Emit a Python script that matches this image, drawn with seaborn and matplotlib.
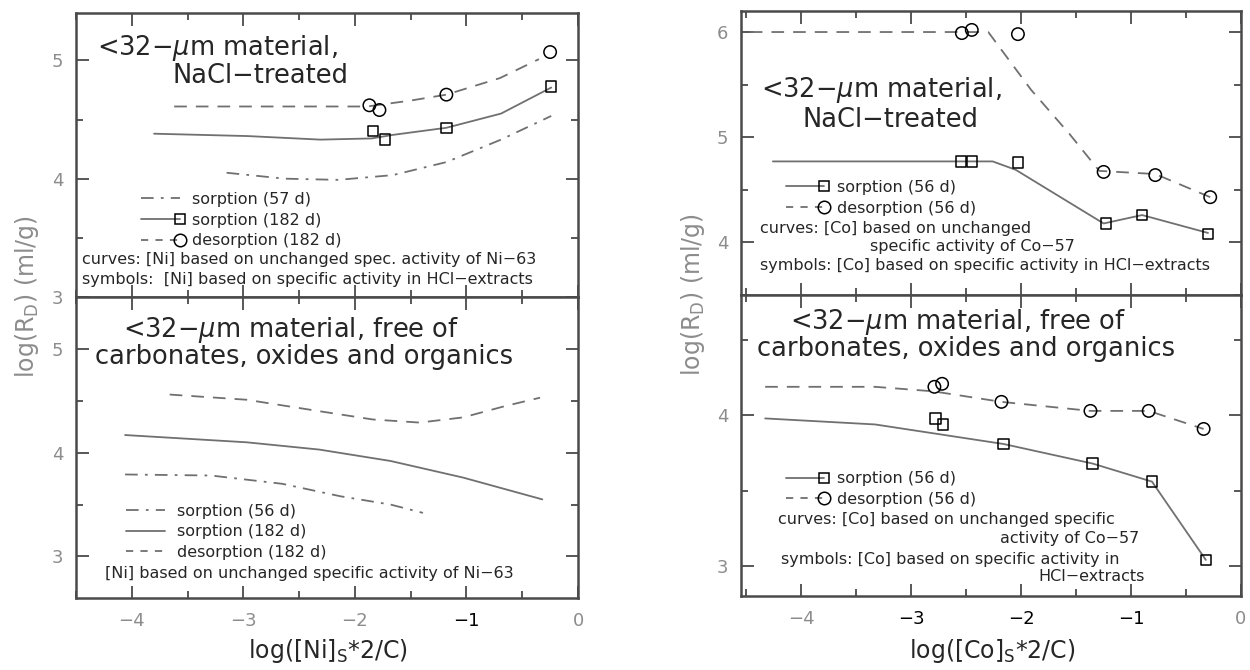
import numpy as np
import pandas as pd
import seaborn as sns
import matplotlib.pyplot as plt
from matplotlib.lines import Line2D
from matplotlib.legend_handler import HandlerLine2D
from matplotlib.ticker import MultipleLocator

"""
1. Values read off the figure
"""
# Ni, NaCl-treated (top left)
ni_nacl_s57_x = [-3.15, -2.63, -2.15, -1.66, -1.18, -0.69, -0.24]
ni_nacl_s57_y = [4.05, 4.00, 3.99, 4.03, 4.14, 4.33, 4.53]
ni_nacl_s182_x = [-3.80, -2.96, -2.31, -1.85, -1.66, -1.18, -0.69, -0.24]
ni_nacl_s182_y = [4.38, 4.36, 4.33, 4.34, 4.37, 4.43, 4.55, 4.77]
ni_nacl_d182_x = [-3.62, -2.80, -1.89, -1.50, -1.18, -0.70, -0.35]
ni_nacl_d182_y = [4.61, 4.61, 4.61, 4.66, 4.71, 4.85, 5.01]
ni_nacl_sq_x = [-1.84, -1.73, -1.18, -0.24]
ni_nacl_sq_y = [4.40, 4.33, 4.43, 4.78]
ni_nacl_ci_x = [-1.87, -1.78, -1.18, -0.25]
ni_nacl_ci_y = [4.62, 4.58, 4.71, 5.07]

# Ni, free of carbonates, oxides and organics (bottom left)
ni_free_s56_x = [-4.06, -3.29, -2.65, -2.13, -1.68, -1.39]
ni_free_s56_y = [3.79, 3.78, 3.70, 3.58, 3.50, 3.42]
ni_free_s182_x = [-4.06, -2.97, -2.32, -1.68, -1.03, -0.32]
ni_free_s182_y = [4.17, 4.10, 4.03, 3.92, 3.76, 3.55]
ni_free_d182_x = [-3.66, -2.97, -2.32, -1.84, -1.42, -1.03, -0.65, -0.34]
ni_free_d182_y = [4.56, 4.51, 4.40, 4.32, 4.29, 4.34, 4.45, 4.53]

# Co, NaCl-treated (top right)
co_nacl_s56_x = [-4.26, -2.26, -2.05, -1.25, -0.90, -0.30]
co_nacl_s56_y = [4.77, 4.77, 4.69, 4.18, 4.26, 4.09]
co_nacl_d56_x = [-4.47, -2.30, -1.91, -1.56, -1.29, -0.78, -0.28]
co_nacl_d56_y = [6.00, 6.00, 5.45, 5.03, 4.68, 4.65, 4.43]
co_nacl_sq_x = [-2.55, -2.45, -2.03, -1.23, -0.90, -0.30]
co_nacl_sq_y = [4.77, 4.77, 4.76, 4.18, 4.26, 4.08]
co_nacl_ci_x = [-2.54, -2.45, -2.03, -1.25, -0.78, -0.28]
co_nacl_ci_y = [5.99, 6.02, 5.98, 4.67, 4.64, 4.43]

# Co, free of carbonates, oxides and organics (bottom right)
co_free_s56_x = [-4.33, -3.33, -2.16, -1.35, -0.81, -0.32]
co_free_s56_y = [3.98, 3.94, 3.81, 3.68, 3.56, 3.04]
co_free_d56_x = [-4.33, -3.33, -2.80, -2.18, -1.37, -0.84, -0.34]
co_free_d56_y = [4.19, 4.19, 4.16, 4.09, 4.03, 4.03, 3.91]
co_free_sq_x = [-2.78, -2.71, -2.16, -1.35, -0.81, -0.32]
co_free_sq_y = [3.98, 3.94, 3.81, 3.68, 3.56, 3.04]
co_free_ci_x = [-2.79, -2.72, -2.18, -1.37, -0.84, -0.34]
co_free_ci_y = [4.19, 4.21, 4.09, 4.03, 4.03, 3.91]

x_ticks = [-4, -3, -2, -1, 0]
x_tick_labels = ['\u22124', '\u22123', '\u22122', '\u22121', '0']

"""
2. Styling
"""
sns.set_style('ticks')
plt.rcParams['font.family'] = ['DejaVu Sans']
plt.rcParams['mathtext.fontset'] = 'dejavusans'

curve_col = '#707070'
frame_col = '#4a4a4a'
tick_col = '#8c8c8c'
dashed = (0, (7, 5))
dashdot = (0, (7, 4, 1.5, 4))
lw = 1.3


class EndMarkerHandler(HandlerLine2D):
    # legend key with the symbol sitting at the right end of the line
    def create_artists(self, *args, **kwargs):
        artists = super().create_artists(*args, **kwargs)
        for a in artists:
            if a.get_marker() not in ('None', None, ''):
                a.set_markevery([len(a.get_xdata()) - 1])
        return artists


def style_axes(ax, xlim, ylim, yticks, bottom_panel, black_x=()):
    ax.set_xlim(xlim)
    ax.set_ylim(ylim)
    ax.set_xticks(x_ticks)
    ax.xaxis.set_minor_locator(MultipleLocator(0.5))
    ax.set_yticks(yticks)
    ax.yaxis.set_minor_locator(MultipleLocator(0.5))
    ax.tick_params(which='both', direction='in', top=True, right=True,
                   color=frame_col, width=1.3)
    ax.tick_params(which='major', length=9)
    ax.tick_params(which='minor', length=5)
    ax.tick_params(axis='y', labelsize=13, labelcolor=tick_col, pad=9)
    ax.set_yticklabels([str(t) for t in yticks])
    if bottom_panel:
        ax.set_xticklabels(x_tick_labels)
        ax.tick_params(axis='x', labelsize=13, labelcolor=tick_col, pad=10)
        for lab, t in zip(ax.get_xticklabels(), x_ticks):
            if t in black_x:
                lab.set_color('black')
    else:
        ax.tick_params(axis='x', labelbottom=False)
    for s in ax.spines.values():
        s.set_color(frame_col)
        s.set_linewidth(1.8)
    ax.set_xlabel('')
    ax.set_ylabel('')


def curve(ax, x, y, ls):
    sns.lineplot(x=x, y=y, ax=ax, color=curve_col, linestyle=ls,
                 linewidth=lw, sort=False, estimator=None)


def symbols(ax, x, y, marker, size):
    sns.scatterplot(x=x, y=y, ax=ax, marker=marker, s=size,
                    facecolor='none', edgecolor='black', linewidth=1.1,
                    zorder=3)


def add_key(ax, handles, labels, anchor):
    ax.legend(handles, labels, loc='upper left', bbox_to_anchor=anchor,
              frameon=False, fontsize=11.5, handlelength=2.4,
              handletextpad=0.8, labelspacing=0.35, borderpad=0,
              borderaxespad=0,
              handler_map={Line2D: EndMarkerHandler(numpoints=1)})


h_dashdot = Line2D([], [], color=curve_col, ls=dashdot, lw=lw)
h_solid = Line2D([], [], color=curve_col, ls='-', lw=lw)
h_dashed = Line2D([], [], color=curve_col, ls=(0, (4, 4)), lw=lw)
h_solid_sq = Line2D([], [], color=curve_col, ls='-', lw=lw, marker='s',
                    ms=7, mfc='none', mec='black', mew=1.1)
h_dashed_ci = Line2D([], [], color=curve_col, ls=(0, (4, 4)), lw=lw,
                     marker='o', ms=9, mfc='none', mec='black', mew=1.1)

title_kw = dict(fontsize=18.5, va='center')
note_kw = dict(fontsize=11.5, va='center')

fig = plt.figure(figsize=(12.5, 6.7), dpi=100)
ax_tl = fig.add_axes([0.0608, 0.5567, 0.4016, 0.4239])
ax_bl = fig.add_axes([0.0608, 0.1075, 0.4016, 0.4492], sharex=ax_tl)
ax_tr = fig.add_axes([0.5928, 0.5597, 0.4000, 0.4239])
ax_br = fig.add_axes([0.5928, 0.1104, 0.4000, 0.4493], sharex=ax_tr)

"""
3. Top left: Ni, NaCl-treated
"""
ax = ax_tl
curve(ax, ni_nacl_s57_x, ni_nacl_s57_y, dashdot)
curve(ax, ni_nacl_s182_x, ni_nacl_s182_y, '-')
curve(ax, ni_nacl_d182_x, ni_nacl_d182_y, dashed)
symbols(ax, ni_nacl_sq_x, ni_nacl_sq_y, 's', 55)
symbols(ax, ni_nacl_ci_x, ni_nacl_ci_y, 'o', 80)
style_axes(ax, (-4.5, 0), (3.0, 5.4), [3, 4, 5], False)
ax.text(-4.31, 5.10, '<32\u2212$\\mu$m material,', **title_kw)
ax.text(-2.85, 4.87, 'NaCl\u2212treated', ha='center', **title_kw)
add_key(ax, [h_dashdot, h_solid_sq, h_dashed_ci],
        ['sorption (57 d)', 'sorption (182 d)', 'desorption (182 d)'],
        (0.13, 0.37))
ax.text(-4.45, 3.32, 'curves: [Ni] based on unchanged spec. activity of Ni\u221263',
        **note_kw)
ax.text(-4.45, 3.15, 'symbols:  [Ni] based on specific activity in HCl\u2212extracts',
        **note_kw)

"""
4. Bottom left: Ni, free of carbonates, oxides and organics
"""
ax = ax_bl
curve(ax, ni_free_s56_x, ni_free_s56_y, dashdot)
curve(ax, ni_free_s182_x, ni_free_s182_y, '-')
curve(ax, ni_free_d182_x, ni_free_d182_y, dashed)
style_axes(ax, (-4.5, 0), (2.6, 5.5), [3, 4, 5], True, black_x=(-1,))
ax.text(-4.08, 5.18, '<32\u2212$\\mu$m material, free of', **title_kw)
ax.text(-4.33, 4.92, 'carbonates, oxides and organics', **title_kw)
add_key(ax, [h_dashdot, h_solid, h_dashed],
        ['sorption (56 d)', 'sorption (182 d)', 'desorption (182 d)'],
        (0.10, 0.313))
ax.text(-4.24, 2.84, '[Ni] based on unchanged specific activity of Ni\u221263',
        **note_kw)

"""
5. Top right: Co, NaCl-treated
"""
ax = ax_tr
curve(ax, co_nacl_s56_x, co_nacl_s56_y, '-')
curve(ax, co_nacl_d56_x, co_nacl_d56_y, dashed)
symbols(ax, co_nacl_sq_x, co_nacl_sq_y, 's', 55)
symbols(ax, co_nacl_ci_x, co_nacl_ci_y, 'o', 80)
style_axes(ax, (-4.55, 0), (3.5, 6.2), [4, 5, 6], False)
ax.text(-4.37, 5.45, '<32\u2212$\\mu$m material,', **title_kw)
ax.text(-3.99, 5.16, 'NaCl\u2212treated', **title_kw)
add_key(ax, [h_solid_sq, h_dashed_ci],
        ['sorption (56 d)', 'desorption (56 d)'], (0.09, 0.405))
ax.text(-4.38, 4.13, 'curves: [Co] based on unchanged', **note_kw)
ax.text(-3.38, 3.96, 'specific activity of Co\u221257', **note_kw)
ax.text(-4.38, 3.78, 'symbols: [Co] based on specific activity in HCl\u2212extracts',
        **note_kw)

"""
6. Bottom right: Co, free of carbonates, oxides and organics
"""
ax = ax_br
curve(ax, co_free_s56_x, co_free_s56_y, '-')
curve(ax, co_free_d56_x, co_free_d56_y, dashed)
symbols(ax, co_free_sq_x, co_free_sq_y, 's', 55)
symbols(ax, co_free_ci_x, co_free_ci_y, 'o', 80)
style_axes(ax, (-4.55, 0), (2.8, 4.8), [3, 4], True, black_x=(-3, -2, -1))
ax.text(-4.10, 4.62, '<32\u2212$\\mu$m material, free of', **title_kw)
ax.text(-4.40, 4.44, 'carbonates, oxides and organics', **title_kw)
add_key(ax, [h_solid_sq, h_dashed_ci],
        ['sorption (56 d)', 'desorption (56 d)'], (0.09, 0.415))
ax.text(-4.21, 3.31, 'curves: [Co] based on unchanged specific', **note_kw)
ax.text(-0.93, 3.18, 'activity of Co\u221257', ha='right', **note_kw)
ax.text(-4.19, 3.04, 'symbols: [Co] based on specific activity in', **note_kw)
ax.text(-0.88, 2.93, 'HCl\u2212extracts', ha='right', **note_kw)

"""
7. Shared axis labels
"""
ylab = 'log(R$_\\mathregular{D}$) (ml/g)'
fig.text(0.022, 0.557, ylab, rotation=90, ha='center', va='center',
         fontsize=17, color=tick_col)
fig.text(0.554, 0.56, ylab, rotation=90, ha='center', va='center',
         fontsize=17, color=tick_col)
fig.text(0.262, 0.028, 'log([Ni]$_\\mathregular{S}$*2/C)', ha='center',
         va='center', fontsize=17)
fig.text(0.794, 0.028, 'log([Co]$_\\mathregular{S}$*2/C)', ha='center',
         va='center', fontsize=17)

plt.savefig('out.png', dpi=100)
